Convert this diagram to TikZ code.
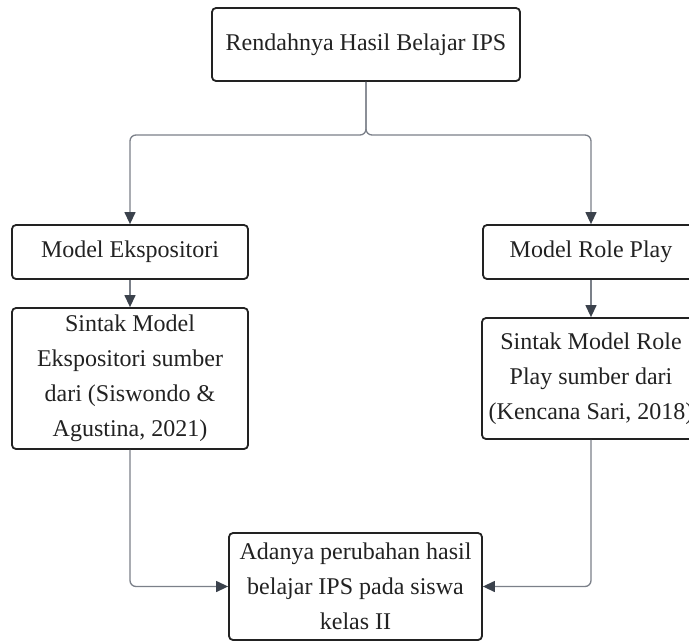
\documentclass[tikz,border=0pt]{standalone}
\usepackage{fontspec}
\setmainfont{Liberation Serif}
\usetikzlibrary{arrows.meta}
\definecolor{garis}{HTML}{7B8089}
\definecolor{ujung}{HTML}{3B424C}
\definecolor{tinta}{HTML}{222222}
\tikzset{
  kotak/.style={draw=tinta, line width=1.8pt, rounded corners=4pt, align=center,
    inner sep=0pt, text=tinta, font=\fontsize{24}{35}\selectfont},
  panah/.style={draw=garis, line width=1.3pt, rounded corners=6pt,
    -{Triangle[width=11pt,length=12pt,color=ujung]}}
}
\begin{document}
\begin{tikzpicture}[x=1pt, y=-1pt]
       \useasboundingbox (0, 0) rectangle (689, 641);
       \fill [white] (0, 0) rectangle (689, 641);
       \clip (0, 0) rectangle (689, 641);
       % kotak masalah
       \node [kotak, minimum width=308pt, minimum height=73pt] (masalah) at (366, 44.5) {Rendahnya Hasil Belajar IPS};
       % dua model
       \node [kotak, minimum width=236pt, minimum height=54pt] (ekspositori) at (130, 252) {Model Ekspositori};
       \node [kotak, minimum width=216pt, minimum height=54pt] (roleplay) at (591, 252) {Model Role Play};
       % dua sintak
       \node [kotak, minimum width=236pt, minimum height=141pt] (sintakeks) at (130, 378.5) {Sintak Model\\Ekspositori sumber\\dari (Siswondo \&\\Agustina, 2021)};
       \node [kotak, minimum width=218pt, minimum height=121pt] (sintakrole) at (591, 378.5) {Sintak Model Role\\Play sumber dari\\(Kencana Sari, 2018)};
       % hasil
       \node [kotak, minimum width=253pt, minimum height=107pt] (hasil) at (355.5, 586.5) {Adanya perubahan hasil\\belajar IPS pada siswa\\kelas II};

       % panah
       \coordinate (cabang) at (366, 135);
       \draw [panah] (masalah.south) -- (cabang) -| (ekspositori.north);
       \draw [panah] (masalah.south) -- (cabang) -| (roleplay.north);
       \draw [panah] (ekspositori) -- (sintakeks);
       \draw [panah] (roleplay) -- (sintakrole);
       \draw [panah] (sintakeks.south) |- (hasil.west);
       \draw [panah] (sintakrole.south) |- (hasil.east);
     \end{tikzpicture}
\end{document}
